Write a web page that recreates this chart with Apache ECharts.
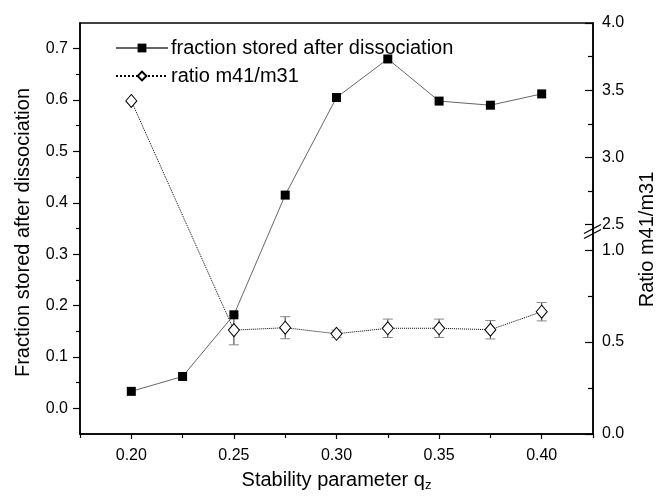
<!DOCTYPE html>
<html><head><meta charset="utf-8">
<script src="https://cdn.jsdelivr.net/npm/echarts@6/dist/echarts.min.js"></script>
<style>html,body{margin:0;padding:0;background:#fff}#c{width:665px;height:497px}</style>
</head><body><div id="c"></div>
<script>
// ---- data ----
const qz = [0.200, 0.225, 0.250, 0.275, 0.300, 0.325, 0.350, 0.375, 0.400];
const fraction = [0.033, 0.062, 0.182, 0.415, 0.605, 0.680, 0.598, 0.590, 0.612];
const ratioQz = [0.200, 0.250, 0.275, 0.300, 0.325, 0.350, 0.375, 0.400];
const ratio = [3.42, 0.565, 0.578, 0.545, 0.575, 0.575, 0.567, 0.665];
const ratioErr = [0, 0.08, 0.06, 0.02, 0.05, 0.05, 0.05, 0.05];
const xTicks = [0.20, 0.25, 0.30, 0.35, 0.40];
const xMinorTicks = [0.175, 0.225, 0.275, 0.325, 0.375, 0.425];
const leftTicks = [0.0, 0.1, 0.2, 0.3, 0.4, 0.5, 0.6, 0.7];
const leftMinorTicks = [0.05, 0.15, 0.25, 0.35, 0.45, 0.55, 0.65];
const rightTicks = [0.0, 0.5, 1.0, 2.5, 3.0, 3.5, 4.0];
const rightMinorTicks = [0.25, 0.75, 2.75, 3.25, 3.75];
const seriesNames = ['fraction stored after dissociation', 'ratio m41/m31'];

// broken right axis: lower segment 0..~1.1, upper segment 2.5..4.0
const LOW_PER_UNIT = 187, UP_START = 213, UP_PER_UNIT = 205 / 1.5, R_MAX = 418;
function T(r) { return r <= 1.75 ? r * LOW_PER_UNIT : UP_START + (r - 2.5) * UP_PER_UNIT; }
function invLabel(v) {
  for (const t of rightTicks) if (Math.abs(T(t) - v) < 0.01) return t.toFixed(1);
  return '';
}

const FONT = 'Liberation Sans, Arial, sans-serif';
const chart = echarts.init(document.getElementById('c'), null, {renderer: 'canvas'});
const axisLine = {show: true, onZero: false, lineStyle: {color: '#000', width: 1.5}};
const noLine = {show: false, onZero: false};

const option = {
  backgroundColor: '#fff',
  animation: false,
  textStyle: {fontFamily: FONT},
  grid: {left: 80, right: 66, top: 23, bottom: 56, show: true, borderColor: '#000', borderWidth: 1.5, backgroundColor: 'transparent'},
  legend: {
    data: seriesNames, orient: 'vertical', left: 110, top: 33, itemWidth: 52, itemHeight: 11, itemGap: 8,
    textStyle: {fontSize: 20, fontFamily: FONT, color: '#000', padding: [0, 0, 0, -2]}, selectedMode: false
  },
  xAxis: [
    {type: 'value', min: 0.175, max: 0.425, position: 'bottom', axisLine,
     axisTick: {show: true, customValues: xTicks, length: 5, lineStyle: {color: '#000', width: 1.2}},
     axisLabel: {customValues: xTicks, formatter: v => v.toFixed(2), fontSize: 16, color: '#000', fontFamily: FONT, margin: 14},
     splitLine: {show: false},
     name: 'Stability parameter q{s|z}', nameLocation: 'middle', nameGap: 35,
     nameTextStyle: {fontSize: 20, color: '#000', fontFamily: FONT, rich: {s: {fontSize: 13, verticalAlign: 'bottom', padding: [10, 0, 0, 0], fontFamily: FONT, color: '#000'}}}},
    {type: 'value', min: 0.175, max: 0.425, position: 'bottom', axisLine: noLine,
     axisTick: {show: true, customValues: xMinorTicks, length: 4, lineStyle: {color: '#000', width: 1.2}},
     axisLabel: {show: false}, splitLine: {show: false}}
  ],
  yAxis: [
    {type: 'value', min: -0.05, max: 0.75, position: 'left', axisLine,
     axisTick: {show: true, customValues: leftTicks, length: 7, lineStyle: {color: '#000', width: 1.2}},
     axisLabel: {customValues: leftTicks, formatter: v => v.toFixed(1), fontSize: 16, color: '#000', fontFamily: FONT, margin: 12},
     splitLine: {show: false},
     name: 'Fraction stored after dissociation', nameLocation: 'middle', nameGap: 47, nameRotate: 90,
     nameTextStyle: {fontSize: 20, color: '#000', fontFamily: FONT, padding: [0, 8, 0, 0]}},
    {type: 'value', min: 0, max: R_MAX, position: 'right', axisLine,
     axisTick: {show: true, inside: true, customValues: rightTicks.map(T), length: 8, lineStyle: {color: '#000', width: 1.2}},
     axisLabel: {customValues: rightTicks.map(T), formatter: v => invLabel(v), fontSize: 16, color: '#000', fontFamily: FONT, margin: 9},
     splitLine: {show: false},
     name: 'Ratio m41/m31', nameLocation: 'middle', nameGap: 44, nameRotate: 90,
     nameTextStyle: {fontSize: 20, color: '#000', fontFamily: FONT, padding: [0, 22, 0, 0]}},
    {type: 'value', min: -0.05, max: 0.75, position: 'left', axisLine: noLine,
     axisTick: {show: true, customValues: leftMinorTicks, length: 4, lineStyle: {color: '#000', width: 1.2}},
     axisLabel: {show: false}, splitLine: {show: false}},
    {type: 'value', min: 0, max: R_MAX, position: 'right', axisLine: noLine,
     axisTick: {show: true, inside: true, customValues: rightMinorTicks.map(T), length: 5, lineStyle: {color: '#000', width: 1.2}},
     axisLabel: {show: false}, splitLine: {show: false}}
  ],
  series: [
    {name: 'errbars', type: 'custom', xAxisIndex: 0, yAxisIndex: 1, z: 2,
     data: ratioQz.map((x, i) => [x, T(ratio[i] - ratioErr[i]), T(ratio[i] + ratioErr[i])]).filter((d, i) => ratioErr[i] > 0),
     encode: {x: 0, y: [1, 2]},
     renderItem: function (params, api) {
       const x = api.value(0);
       const pLo = api.coord([x, api.value(1)]), pHi = api.coord([x, api.value(2)]);
       const w = 5;
       return {type: 'group', children: [
         {type: 'line', shape: {x1: pLo[0], y1: pLo[1], x2: pHi[0], y2: pHi[1]}, style: {stroke: '#333', lineWidth: 1}},
         {type: 'line', shape: {x1: pLo[0] - w, y1: pLo[1], x2: pLo[0] + w, y2: pLo[1]}, style: {stroke: '#888', lineWidth: 1}},
         {type: 'line', shape: {x1: pHi[0] - w, y1: pHi[1], x2: pHi[0] + w, y2: pHi[1]}, style: {stroke: '#888', lineWidth: 1}}
       ]};
     }},
    {name: seriesNames[1], type: 'line', xAxisIndex: 0, yAxisIndex: 1, z: 3,
     data: ratioQz.map((x, i) => [x, T(ratio[i])]),
     symbol: 'diamond', symbolSize: [11, 13],
     itemStyle: {color: '#fff', borderColor: '#000', borderWidth: 1},
     lineStyle: {color: '#000', width: 1, type: 'dotted'}},
    {name: seriesNames[0], type: 'line', xAxisIndex: 0, yAxisIndex: 0, z: 4,
     data: qz.map((x, i) => [x, fraction[i]]),
     symbol: 'rect', symbolSize: 9,
     itemStyle: {color: '#000'},
     lineStyle: {color: '#666', width: 1}}
  ]
};
chart.setOption(option);

// axis-break marks on the right axis
const bx = chart.convertToPixel({xAxisIndex: 0}, 0.425);
const by = chart.convertToPixel({yAxisIndex: 1}, (T(1.0) + T(2.5)) / 2 + 6);
chart.setOption({graphic: [
  {type: 'line', shape: {x1: bx - 9, y1: by + 2, x2: bx + 8, y2: by - 7}, style: {stroke: '#000', lineWidth: 1.3}, z: 10},
  {type: 'line', shape: {x1: bx - 9, y1: by + 7, x2: bx + 8, y2: by - 2}, style: {stroke: '#000', lineWidth: 1.3}, z: 10}
]});
</script>
</body></html>
